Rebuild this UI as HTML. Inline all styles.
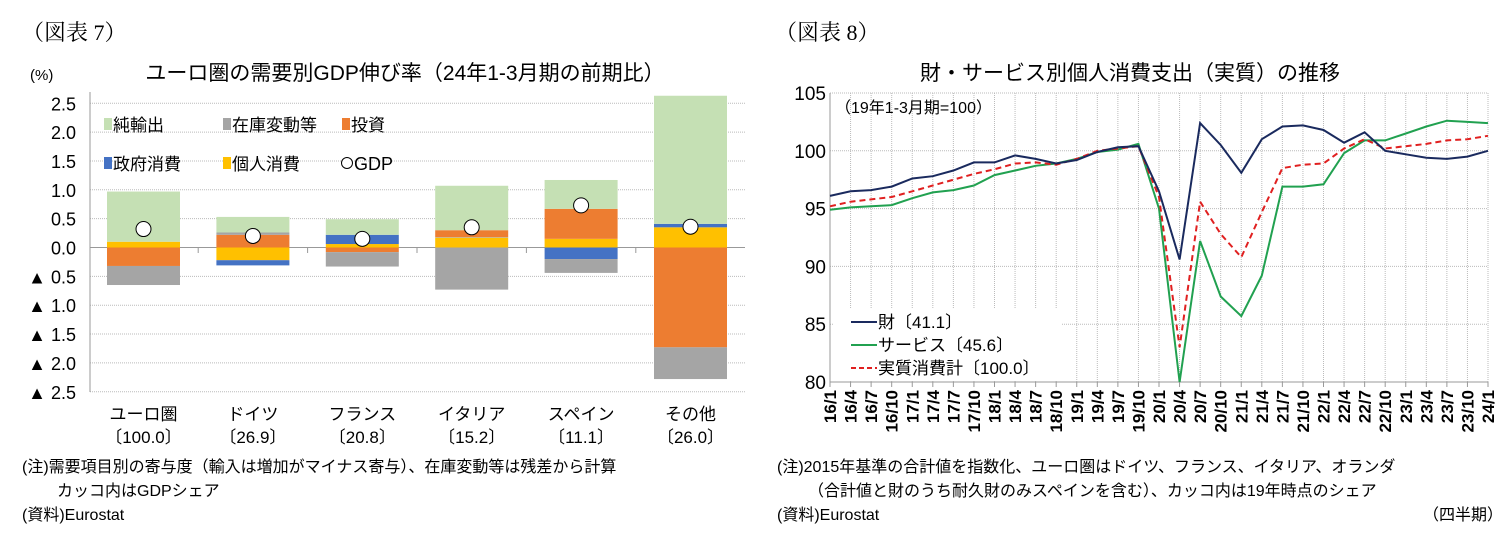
<!DOCTYPE html>
<html><head><meta charset="utf-8"><style>
body{margin:0;background:#fff;width:1509px;height:550px;overflow:hidden}
svg{font-family:"Liberation Sans","Noto Sans CJK JP",sans-serif}
</style></head><body>
<svg id="s" width="1509" height="550" xmlns="http://www.w3.org/2000/svg"></svg>
<script>
const s=document.getElementById('s');let h='';
function t(x,y,txt,sz,a,extra){h+=`<text x="${x}" y="${y}" font-size="${sz}" text-anchor="${a||'start'}" ${extra||''}>${txt}</text>`}
// ---------- left chart
t(22,40,'（図表 7）',22,'start','font-family="Liberation Serif,Noto Serif CJK SC,serif"');
t(775,40,'（図表 8）',22,'start','font-family="Liberation Serif,Noto Serif CJK SC,serif"');
t(30,80,'(%)',15);
t(405,80,'ユーロ圏の需要別GDP伸び率（24年1-3月期の前期比）',21,'middle');
const Y=v=>247.5-v*57.7;
for(let i=0;i<11;i++){const v=2.5-i*0.5,y=Y(v);
 h+=`<line x1="90" x2="745" y1="${y}" y2="${y}" stroke="#bbb" stroke-dasharray="1,1"/>`;
 t(76,y+7,(v<0?'▲ ':'')+Math.abs(v).toFixed(1),18,'end');}
h+=`<line x1="90" x2="90" y1="92" y2="392" stroke="#999"/><line x1="90" x2="745" y1="247.5" y2="247.5" stroke="#999"/>`;
const C={g:'#c5e0b4',k:'#a5a5a5',o:'#ed7d31',b:'#4472c4',y:'#ffc000'};
const bars=[
 [[['y',0,.1],['g',.1,.97],['o',0,-.32],['k',-.32,-.65]],.32],
 [[['o',0,.22],['k',.22,.26],['g',.26,.53],['y',0,-.22],['b',-.22,-.31]],.2],
 [[['y',0,.06],['b',.06,.22],['g',.22,.49],['o',0,-.08],['k',-.08,-.33]],.15],
 [[['y',0,.17],['k',.17,.18],['o',.18,.3],['g',.3,1.07],['k',0,-.73]],.35],
 [[['y',0,.15],['o',.15,.67],['g',.67,1.17],['b',0,-.2],['k',-.2,-.44]],.73],
 [[['y',0,.35],['b',.35,.41],['g',.41,2.63],['o',0,-1.73],['k',-1.73,-2.28]],.36]];
const cats=[['ユーロ圏','〔100.0〕'],['ドイツ','〔26.9〕'],['フランス','〔20.8〕'],['イタリア','〔15.2〕'],['スペイン','〔11.1〕'],['その他','〔26.0〕']];
bars.forEach((b,i)=>{const cx=143.5+i*109.4;
 b[0].forEach(([c,a,e])=>{const y1=Y(Math.max(a,e)),y2=Y(Math.min(a,e));h+=`<rect x="${cx-36.5}" y="${y1}" width="73" height="${y2-y1}" fill="${C[c]}"/>`});
 h+=`<circle cx="${cx}" cy="${Y(b[1])}" r="7.5" fill="#fff" stroke="#000" stroke-width="1"/>`;
 if(i<5)h+=`<line x1="${cx+54.7}" x2="${cx+54.7}" y1="247.5" y2="253" stroke="#999"/>`;
 t(cx,420,cats[i][0],17,'middle');t(cx,443,cats[i][1],17,'middle');});
// legend
[['g',104,131,'純輸出'],['k',223,131,'在庫変動等'],['o',342,131,'投資'],['b',104,170,'政府消費'],['y',223,170,'個人消費']].forEach(([c,x,y,l])=>{
 h+=`<rect x="${x}" y="${y-13}" width="8" height="12" fill="${C[c]}"/>`;t(x+9,y,l,17);});
h+=`<circle cx="347" cy="163" r="5.5" fill="#fff" stroke="#000"/>`;t(354,170,'GDP',18);
t(22,472,'(注)需要項目別の寄与度（輸入は増加がマイナス寄与）、在庫変動等は残差から計算',16);
t(57,496,'カッコ内はGDPシェア',16);
t(22,520,'(資料)Eurostat',16);
// ---------- right chart
t(1130,80,'財・サービス別個人消費支出（実質）の推移',21,'middle');
const X0=830,W=658,DX=W/32,XE=X0+W,YR=v=>382-(v-80)*11.56;
for(let i=0;i<=32;i++){const x=X0+i*DX;h+=`<line x1="${x}" x2="${x}" y1="93" y2="382" stroke="#bbb" stroke-dasharray="1,1"/><line x1="${x}" x2="${x}" y1="382" y2="387" stroke="#999"/>`;}
for(let v=80;v<=105;v+=5){const y=YR(v);h+=`<line x1="${X0}" x2="${XE}" y1="${y}" y2="${y}" stroke="#bbb" stroke-dasharray="1,1"/>`;t(826,y+7,v,19,'end');}
h+=`<line x1="${X0}" x2="${X0}" y1="93" y2="382" stroke="#999"/><line x1="${X0}" x2="${XE}" y1="382" y2="382" stroke="#999"/>`;
const goods=[96.1,96.5,96.6,96.9,97.6,97.8,98.3,99.0,99.0,99.6,99.3,98.9,99.2,99.9,100.3,100.4,96.5,90.6,102.4,100.5,98.1,101.0,102.1,102.2,101.8,100.7,101.6,100.0,99.7,99.4,99.3,99.5,100.0];
const serv=[94.9,95.1,95.2,95.3,95.9,96.4,96.6,97.0,97.9,98.3,98.7,98.9,99.3,99.9,100.1,100.6,95.0,80.0,92.2,87.4,85.7,89.2,96.9,96.9,97.1,99.8,100.9,100.9,101.5,102.1,102.6,102.5,102.4];
const tot=[95.2,95.6,95.8,96.0,96.5,97.0,97.5,98.0,98.4,98.9,99.0,98.8,99.3,100.0,100.2,100.4,96.0,83.0,95.6,92.8,90.8,94.7,98.5,98.8,98.9,100.2,101.0,100.2,100.4,100.6,100.9,101.0,101.3];
h+=`<rect x="834" y="308" width="228" height="73" fill="#fff"/>`;
const pl=(d,c,ex)=>{h+=`<polyline fill="none" stroke="${c}" stroke-width="2" ${ex||''} points="${d.map((v,i)=>(X0+i*DX).toFixed(1)+','+YR(v).toFixed(1)).join(' ')}"/>`};
pl(serv,'#21a150');pl(tot,'#e02020','stroke-dasharray="6,4"');pl(goods,'#1a2a5e');
t(835,113,'（19年1-3月期=100）',16);
h+=`<line x1="851" x2="877" y1="322" y2="322" stroke="#1a2a5e" stroke-width="2"/><line x1="851" x2="877" y1="345" y2="345" stroke="#21a150" stroke-width="2"/><line x1="851" x2="877" y1="368" y2="368" stroke="#e02020" stroke-width="2" stroke-dasharray="5,3"/>`;
t(878,328,'財〔41.1〕',17);t(878,351,'サービス〔45.6〕',17);t(878,374,'実質消費計〔100.0〕',17);
const qs=['1','4','7','10'];
for(let i=0;i<=32;i++){const x=X0+i*DX+6,lab=(16+Math.floor(i/4))+'/'+qs[i%4];
 h+=`<text x="0" y="0" font-size="17" font-weight="bold" text-anchor="end" transform="translate(${x},390) rotate(-90)">${lab}</text>`;}
t(777,472,'(注)2015年基準の合計値を指数化、ユーロ圏はドイツ、フランス、イタリア、オランダ',16);
t(808,496,'（合計値と財のうち耐久財のみスペインを含む）、カッコ内は19年時点のシェア',16);
t(777,520,'(資料)Eurostat',16);t(1503,520,'（四半期）',16,'end');
s.innerHTML=h;
</script>
</body></html>
